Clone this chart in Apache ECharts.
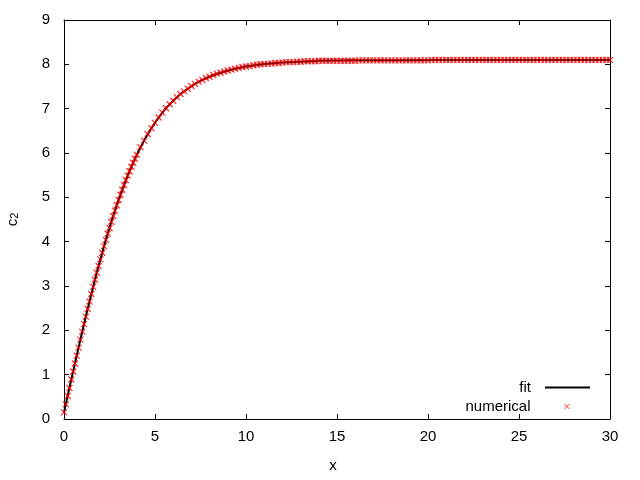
<!DOCTYPE html>
<html>
<head>
<meta charset="utf-8">
<script src="https://cdn.jsdelivr.net/npm/echarts@6/dist/echarts.min.js"></script>
<style>html,body{margin:0;padding:0;background:#fff}#c{width:640px;height:480px}</style>
</head>
<body>
<div id="c"></div>
<script>
// fit curve
var fitX = [0,0.2,0.4,0.6,0.8,1,1.2,1.4,1.6,1.8,2,2.2,2.4,2.6,2.8,3,3.2,3.4,3.6,3.8,4,
  4.4,4.8,5.2,5.6,6,6.4,6.8,7.2,7.6,8,8.6,9.2,10,11,12,13,14,16,18,20,25,30];
var fitY = [0.15,0.52,0.89,1.25,1.61,1.97,2.31,2.65,2.98,3.30,3.60,3.90,4.18,4.45,4.70,4.94,5.17,5.39,5.59,5.78,5.96,
  6.28,6.56,6.80,7.01,7.18,7.33,7.45,7.56,7.65,7.72,7.81,7.88,7.95,8.01,8.04,8.06,8.08,8.09,8.09,8.10,8.10,8.10];

// numerical points
var numX = [0,0.1,0.2,0.3,0.4,0.5,0.6,0.7,0.8,0.9,
  1,1.1,1.2,1.3,1.4,1.5,1.6,1.7,1.8,1.9,
  2,2.1,2.2,2.3,2.4,2.5,2.6,2.7,2.8,2.9,
  3,3.1,3.2,3.3,3.4,3.5,3.6,3.7,3.8,3.9,
  4,
  4.2,4.4,4.6,4.8,5,5.2,5.4,5.6,5.8,6,
  6.2,6.4,6.6,6.8,7,7.2,7.4,7.6,7.8,8,
  8.2,8.4,8.6,8.8,9,9.2,9.4,9.6,9.8,10,
  10.2,10.4,10.6,10.8,11,11.2,11.4,11.6,11.8,12,
  12.2,12.4,12.6,12.8,13,13.2,13.4,13.6,13.8,14,
  14.2,14.4,14.6,14.8,15,15.2,15.4,15.6,15.8,16,
  16.2,16.4,16.6,16.8,17,17.2,17.4,17.6,17.8,18,
  18.2,18.4,18.6,18.8,19,19.2,19.4,19.6,19.8,20,
  20.2,20.4,20.6,20.8,21,21.2,21.4,21.6,21.8,22,
  22.2,22.4,22.6,22.8,23,23.2,23.4,23.6,23.8,24,
  24.2,24.4,24.6,24.8,25,25.2,25.4,25.6,25.8,26,
  26.2,26.4,26.6,26.8,27,27.2,27.4,27.6,27.8,28,
  28.2,28.4,28.6,28.8,29,29.2,29.4,29.6,29.8,30];
var numY = [0.15,0.33,0.52,0.70,0.89,1.07,1.25,1.43,1.61,1.79,
  1.97,2.14,2.31,2.48,2.65,2.82,2.98,3.14,3.30,3.45,
  3.60,3.75,3.90,4.04,4.18,4.31,4.45,4.58,4.70,4.82,
  4.94,5.06,5.17,5.28,5.39,5.49,5.59,5.69,5.78,5.87,
  5.96,
  6.13,6.28,6.43,6.56,6.68,6.80,6.91,7.01,7.10,7.18,
  7.26,7.33,7.39,7.45,7.51,7.56,7.61,7.65,7.69,7.72,
  7.76,7.79,7.81,7.84,7.86,7.88,7.90,7.92,7.94,7.95,
  7.96,7.98,7.99,8.00,8.01,8.01,8.02,8.03,8.03,8.04,
  8.05,8.05,8.05,8.06,8.06,8.07,8.07,8.07,8.07,8.08,
  8.08,8.08,8.08,8.08,8.08,8.08,8.08,8.08,8.08,8.08,
  8.09,8.09,8.09,8.09,8.09,8.09,8.09,8.09,8.09,8.09,
  8.09,8.09,8.09,8.09,8.09,8.09,8.09,8.09,8.09,8.09,
  8.10,8.10,8.10,8.10,8.10,8.10,8.10,8.10,8.10,8.10,
  8.10,8.10,8.10,8.10,8.10,8.10,8.10,8.10,8.10,8.10,
  8.10,8.10,8.10,8.10,8.10,8.10,8.10,8.10,8.10,8.10,
  8.10,8.10,8.10,8.10,8.10,8.10,8.10,8.10,8.10,8.10,
  8.10,8.10,8.10,8.10,8.10,8.10,8.10,8.10,8.10,8.10];

var xTicks = [0,5,10,15,20,25,30];
var yTicks = [0,1,2,3,4,5,6,7,8,9];
var seriesNames = ['fit','numerical'];

var FONT = 'Liberation Sans, Arial, sans-serif';
var FS = 15;
var X_PATH = 'path://M0,0L10,10M10,0L0,10';

function pairs(xs, ys){ return xs.map(function(x,i){ return [x, ys[i]]; }); }

var axisCommon = {
  axisLine:{show:true, onZero:false, lineStyle:{color:'#000', width:1}},
  axisTick:{show:true, inside:true, length:5, lineStyle:{color:'#000', width:1}},
  splitLine:{show:false}
};

var chart = echarts.init(document.getElementById('c'), null, {renderer:'canvas'});
chart.setOption({
  animation:false,
  backgroundColor:'#fff',
  textStyle:{fontFamily:FONT, color:'#000'},
  grid:{left:64, right:30, top:20, bottom:61, containLabel:false, outerBoundsMode:'none'},
  xAxis:[
    Object.assign({}, axisCommon, {
      type:'value', position:'bottom', min:xTicks[0], max:xTicks[xTicks.length-1], interval:5,
      name:'x', nameLocation:'middle', nameGap:39,
      nameTextStyle:{fontSize:FS, color:'#000', fontFamily:FONT, padding:[0,8,0,0]},
      axisLabel:{fontSize:FS, color:'#000', margin:10, fontFamily:FONT}
    }),
    Object.assign({}, axisCommon, {
      type:'value', position:'top', min:xTicks[0], max:xTicks[xTicks.length-1], interval:5,
      axisLabel:{show:false}
    })
  ],
  yAxis:[
    Object.assign({}, axisCommon, {
      type:'value', position:'left', min:yTicks[0], max:yTicks[yTicks.length-1], interval:1,
      name:'c{s|2}', nameLocation:'middle', nameGap:44, nameRotate:90,
      nameTextStyle:{fontSize:FS, color:'#000', fontFamily:FONT,
        rich:{s:{fontSize:11, color:'#000', fontFamily:FONT, verticalAlign:'bottom'}}},
      axisLabel:{fontSize:FS, color:'#000', margin:14, fontFamily:FONT}
    }),
    Object.assign({}, axisCommon, {
      type:'value', position:'right', min:yTicks[0], max:yTicks[yTicks.length-1], interval:1,
      axisLabel:{show:false}
    })
  ],
  legend:[
    {
      data:[{name:seriesNames[0], icon:'rect'}], orient:'vertical', align:'right', padding:0,
      right:50, top:380, itemWidth:45, itemHeight:2,
      itemStyle:{color:'#000'},
      textStyle:{fontSize:FS, color:'#000', fontFamily:FONT, padding:[0,9,0,0]}
    },
    {
      data:[{name:seriesNames[1], icon:X_PATH}], orient:'vertical', align:'right', padding:0,
      right:70, top:399, itemWidth:5, itemHeight:5,
      itemStyle:{color:'transparent', borderColor:'#ff0000', borderWidth:1},
      textStyle:{fontSize:FS, color:'#000', fontFamily:FONT, padding:[0,29,0,0]}
    }
  ],
  series:[
    {
      name:seriesNames[0], type:'line', xAxisIndex:0, yAxisIndex:0,
      data:pairs(fitX, fitY), showSymbol:false, symbol:'none', smooth:false,
      lineStyle:{color:'#000', width:2}, itemStyle:{color:'#000'}, z:2
    },
    {
      name:seriesNames[1], type:'scatter', xAxisIndex:0, yAxisIndex:0,
      data:pairs(numX, numY), symbol:X_PATH, symbolSize:6,
      itemStyle:{color:'transparent', borderColor:'#ff0000', borderWidth:1.3}, z:3
    }
  ]
});
</script>
</body>
</html>
